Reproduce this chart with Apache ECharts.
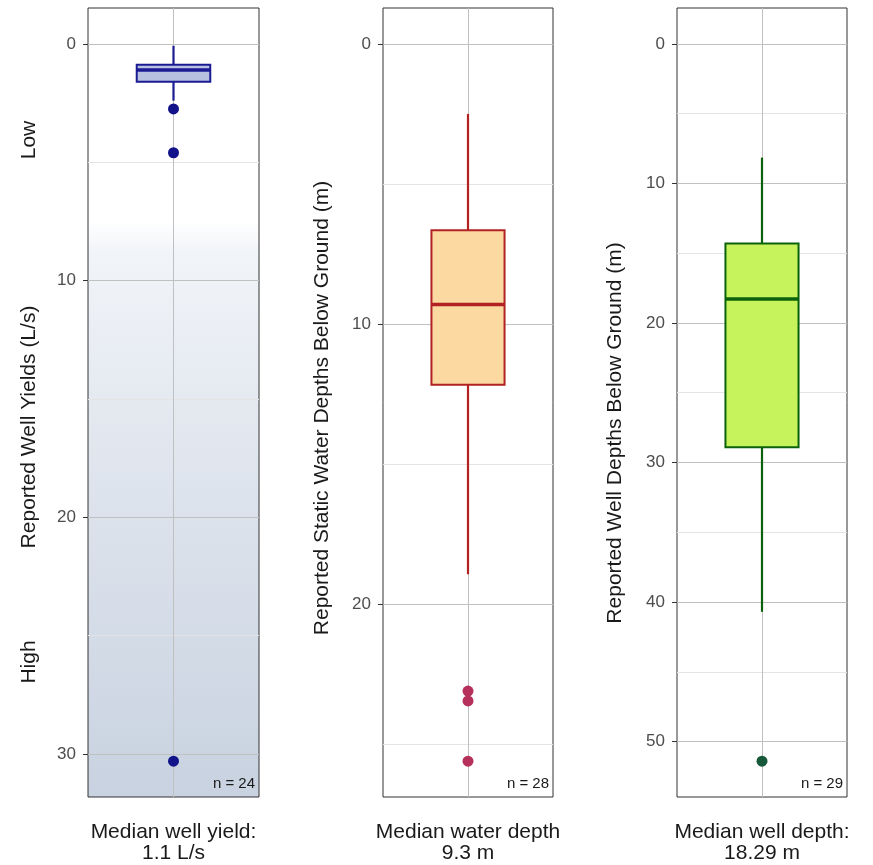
<!DOCTYPE html>
<html>
<head>
<meta charset="utf-8">
<script src="https://cdn.jsdelivr.net/npm/echarts@6/dist/echarts.min.js"></script>
<style>
  html, body { margin: 0; padding: 0; background: #ffffff; }
  #chart { width: 873px; height: 865px; }
</style>
</head>
<body>
<div id="chart"></div>
<script>
// Category labels under each panel
const categories = ['Median well yield:\n1.1 L/s', 'Median water depth\n9.3 m', 'Median well depth:\n18.29 m'];

// Box statistics: [lower whisker, Q1, median, Q3, upper whisker]
const yieldBox = [0.08, 0.88, 1.1, 1.6, 2.4];
const waterBox = [2.5, 6.65, 9.3, 12.17, 18.93];
const depthBox = [8.15, 14.3, 18.29, 28.9, 40.7];

// Outlying observations
const yieldOutliers = [2.75, 4.6, 30.3];
const waterOutliers = [23.1, 23.45, 25.6];
const depthOutliers = [51.4];

// Sample sizes
const sampleSizes = [24, 28, 29];

// Axis titles and tick values
const axisTitles = ['Reported Well Yields (L/s)', 'Reported Static Water Depths Below Ground (m)', 'Reported Well Depths Below Ground (m)'];
const yieldMajor = [0, 10, 20, 30];
const yieldMinor = [5, 15, 25];
const waterMajor = [0, 10, 20];
const waterMinor = [5, 15, 25];
const depthMajor = [0, 10, 20, 30, 40, 50];
const depthMinor = [5, 15, 25, 35, 45];

const FONT = '"Liberation Sans", Arial, Helvetica, sans-serif';

const panels = [
  { box: yieldBox, out: yieldOutliers, major: yieldMajor, minor: yieldMinor,
    fill: '#b9c1e0', stroke: '#1b1b94', dot: '#12128a', left: 88, width: 171 },
  { box: waterBox, out: waterOutliers, major: waterMajor, minor: waterMinor,
    fill: '#fdd9a2', stroke: '#b32222', dot: '#b5305a', left: 383, width: 170 },
  { box: depthBox, out: depthOutliers, major: depthMajor, minor: depthMinor,
    fill: '#c6f25c', stroke: '#0b620b', dot: '#17573a', left: 677, width: 170 }
];

const TOP = 8, HEIGHT = 789;

const grids = [], xAxes = [], yAxes = [], series = [], graphics = [];

panels.forEach((p, i) => {
  // value range: from zero to the largest observation, padded by 5 %
  const hi = Math.max(p.box[4], ...p.out);
  const pad = hi * 0.05;

  const grid = {
    left: p.left, top: TOP, width: p.width, height: HEIGHT,
    show: true, borderColor: '#333333', borderWidth: 1,
    backgroundColor: '#ffffff'
  };
  if (i === 0) {
    grid.backgroundColor = new echarts.graphic.LinearGradient(0, 0, 0, 1, [
      { offset: 0, color: '#ffffff' },
      { offset: 0.27, color: '#ffffff' },
      { offset: 0.31, color: '#f1f4f8' },
      { offset: 0.6, color: '#dee4ed' },
      { offset: 1, color: '#c8d2e0' }
    ]);
  }
  grids.push(grid);

  xAxes.push({
    type: 'category', gridIndex: i, data: [categories[i]],
    axisLine: { show: false },
    axisTick: { show: true, alignWithLabel: true, length: 5, lineStyle: { color: '#333333', width: 1 } },
    axisLabel: { color: '#1a1a1a', fontSize: 21, fontFamily: FONT, margin: 25, lineHeight: 21 },
    splitLine: { show: false }
  });

  yAxes.push({
    type: 'value', gridIndex: i, inverse: true,
    min: -pad, max: hi + pad,
    axisLine: { show: false },
    axisTick: { show: true, length: 5, customValues: p.major, lineStyle: { color: '#333333', width: 1 } },
    axisLabel: { show: true, customValues: p.major, color: '#4d4d4d', fontSize: 17, fontFamily: FONT, margin: 12 },
    splitLine: { show: false }
  });

  // Reference lines (grid) drawn under the boxes
  const gl = [];
  p.minor.forEach(v => gl.push({ yAxis: v, lineStyle: { color: '#e4e4e4', width: 1, type: 'solid' } }));
  p.major.forEach(v => gl.push({ yAxis: v, lineStyle: { color: '#c0c0c0', width: 1, type: 'solid' } }));
  gl.push({ xAxis: categories[i], lineStyle: { color: '#c0c0c0', width: 1, type: 'solid' } });
  series.push({
    type: 'line', xAxisIndex: i, yAxisIndex: i, data: [], z: 1, silent: true,
    markLine: { z: 1, symbol: 'none', silent: true, label: { show: false }, animation: false, data: gl }
  });

  // Box and whiskers
  series.push({
    type: 'custom', xAxisIndex: i, yAxisIndex: i, z: 3,
    data: [[0, ...p.box]],
    encode: { x: 0, y: [1, 2, 3, 4, 5] },
    renderItem: function (params, api) {
      const x = api.value(0);
      const pLow = api.coord([x, api.value(1)]);
      const pQ1 = api.coord([x, api.value(2)]);
      const pMed = api.coord([x, api.value(3)]);
      const pQ3 = api.coord([x, api.value(4)]);
      const pHigh = api.coord([x, api.value(5)]);
      const band = api.size([1, 0])[0];
      const w = band * 0.43;
      const cx = pMed[0];
      return {
        type: 'group',
        children: [
          { type: 'line', shape: { x1: cx, y1: pLow[1], x2: cx, y2: pQ1[1] },
            style: { stroke: p.stroke, lineWidth: 2.2 } },
          { type: 'line', shape: { x1: cx, y1: pQ3[1], x2: cx, y2: pHigh[1] },
            style: { stroke: p.stroke, lineWidth: 2.2 } },
          { type: 'rect', shape: { x: cx - w / 2, y: pQ1[1], width: w, height: pQ3[1] - pQ1[1] },
            style: { fill: p.fill, stroke: p.stroke, lineWidth: 2 } },
          { type: 'line', shape: { x1: cx - w / 2, y1: pMed[1], x2: cx + w / 2, y2: pMed[1] },
            style: { stroke: p.stroke, lineWidth: 3.5 } }
        ]
      };
    }
  });

  // Outliers
  series.push({
    type: 'scatter', xAxisIndex: i, yAxisIndex: i, z: 4,
    symbol: 'circle', symbolSize: 11,
    itemStyle: { color: p.dot, opacity: 1 },
    data: p.out.map(v => [categories[i], v])
  });

  // Sample size note
  graphics.push({
    type: 'text', right: 873 - (p.left + p.width) + 4, top: TOP + HEIGHT - 21,
    style: { text: 'n = ' + sampleSizes[i], font: '15px ' + FONT, fill: '#1a1a1a' }
  });
});

// Axis titles (rotated)
const titlePos = [[29, 427], [322, 408], [615, 433]];
axisTitles.forEach((t, i) => {
  graphics.push({
    type: 'text', x: titlePos[i][0], y: titlePos[i][1], rotation: Math.PI / 2,
    style: { text: t, font: '21px ' + FONT, fill: '#1a1a1a', align: 'center', verticalAlign: 'middle' }
  });
});
graphics.push({
  type: 'text', x: 29, y: 140, rotation: Math.PI / 2,
  style: { text: 'Low', font: '21px ' + FONT, fill: '#1a1a1a', align: 'center', verticalAlign: 'middle' }
});
graphics.push({
  type: 'text', x: 29, y: 662, rotation: Math.PI / 2,
  style: { text: 'High', font: '21px ' + FONT, fill: '#1a1a1a', align: 'center', verticalAlign: 'middle' }
});

const chart = echarts.init(document.getElementById('chart'), null, { renderer: 'canvas' });
chart.setOption({
  animation: false,
  backgroundColor: '#ffffff',
  textStyle: { fontFamily: FONT },
  grid: grids,
  xAxis: xAxes,
  yAxis: yAxes,
  series: series,
  graphic: graphics
});
</script>
</body>
</html>
